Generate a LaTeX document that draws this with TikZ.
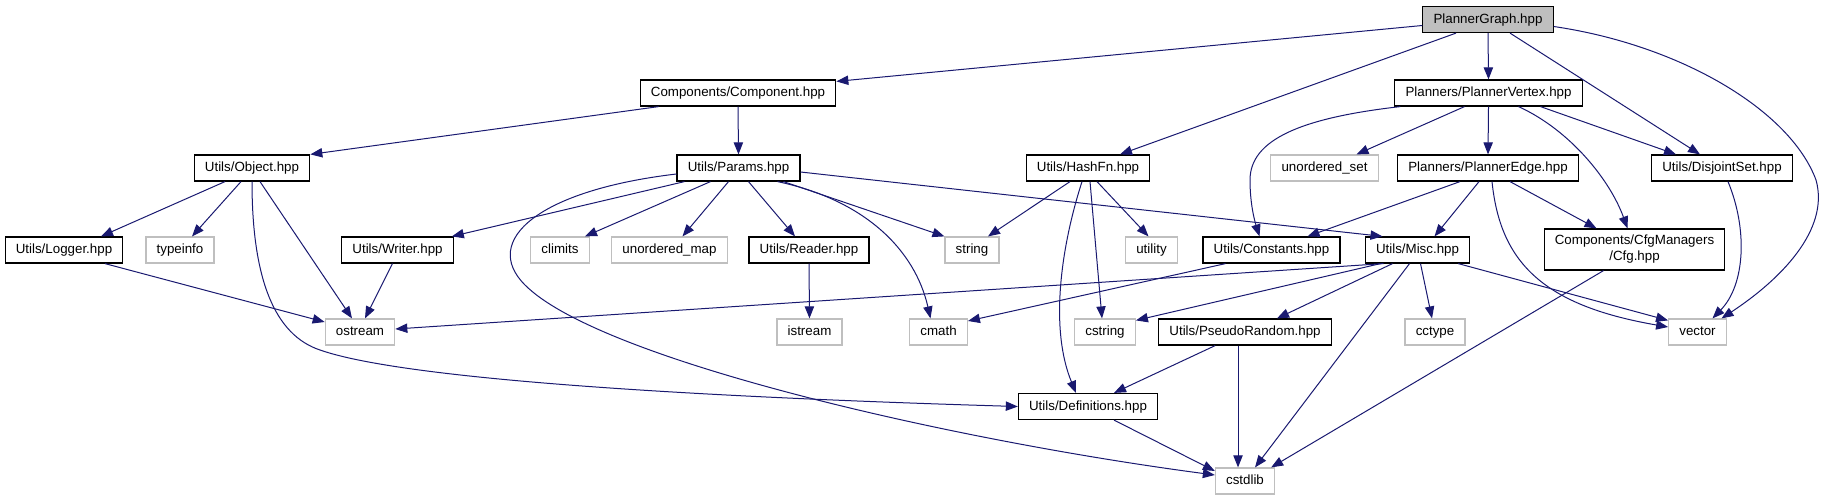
\documentclass[tikz,border=0pt]{standalone}
\usepackage{fontspec}
\setmainfont{Liberation Sans}
\usepackage{tikz}
\usetikzlibrary{arrows.meta,calc}
\definecolor{edgeblue}{HTML}{191970}
\definecolor{sysgray}{HTML}{BFBFBF}
\tikzset{
  base/.style={draw=black,line width=0.9pt,fill=white,inner xsep=8pt,inner ysep=0pt,
               font=\fontsize{10}{12}\selectfont},
  hdr/.style={base,minimum height=19.5pt,text height=7.4pt,text depth=2pt},
  sys/.style={hdr,draw=sysgray},
  root/.style={hdr,fill=sysgray},
  inc/.style={-{Triangle[length=9pt,width=7pt]},draw=edgeblue,line width=0.75pt},
}

\begin{document}
\begin{tikzpicture}[x=0.75pt,y=-0.75pt]
\useasboundingbox (0,0) rectangle (1822,500);

% row 0 and 1
\node[root] (graph)  at (1488,19.5) {PlannerGraph.hpp};
\node[hdr]  (comp)   at (738,93)    {Components/Component.hpp};
\node[hdr]  (vertex) at (1488.5,93) {Planners/PlannerVertex.hpp};

% row 2
\node[hdr] (object)   at (252,168)    {Utils/Object.hpp};
\node[hdr] (params)   at (738.5,168)  {Utils/Params.hpp};
\node[hdr] (hashfn)   at (1088,168)   {Utils/HashFn.hpp};
\node[sys] (uset)     at (1324.5,168) {unordered\_set};
\node[hdr] (edge)     at (1488,168)   {Planners/PlannerEdge.hpp};
\node[hdr] (disjoint) at (1722,168)   {Utils/DisjointSet.hpp};

% row 3
\node[hdr] (logger)    at (64,250)     {Utils/Logger.hpp};
\node[sys] (typeinfo)  at (180,250)    {typeinfo};
\node[hdr] (writer)    at (397.5,250)  {Utils/Writer.hpp};
\node[sys] (climits)   at (560,250)    {climits};
\node[sys] (umap)      at (669.5,250)  {unordered\_map};
\node[hdr] (reader)    at (809,250)    {Utils/Reader.hpp};
\node[sys] (string)    at (972,250)    {string};
\node[sys] (utility)   at (1151.5,250) {utility};
\node[hdr] (constants) at (1271.5,250) {Utils/Constants.hpp};
\node[hdr] (misc)      at (1417.5,250) {Utils/Misc.hpp};
\node[base,align=center,minimum height=30.75pt]
  (cfg) at (1634.5,249.5) {Components/CfgManagers\\/Cfg.hpp};

% row 4
\node[sys] (ostream) at (360,332)    {ostream};
\node[sys] (istream) at (809.5,332)  {istream};
\node[sys] (cmath)   at (938.5,332)  {cmath};
\node[sys] (cstring) at (1105,332)   {cstring};
\node[hdr] (pseudo)  at (1245,332)   {Utils/PseudoRandom.hpp};
\node[sys] (cctype)  at (1435,332)   {cctype};
\node[sys] (vector)  at (1697.5,332) {vector};

% row 5 and 6
\node[hdr] (defs)    at (1088,406.5) {Utils/Definitions.hpp};
\node[sys] (cstdlib) at (1245,481)   {cstdlib};

% PlannerGraph.hpp
\draw[inc] ($(graph.west)+(0,6)$) -- ($(comp.north east)+(0,2)$);
\draw[inc] ($(graph.south)+(-32,0)$) -- ($(hashfn.north)+(32,0)$);
\draw[inc] (graph.south) -- (vertex.north);
\draw[inc] ($(graph.south)+(22,0)$) -- ($(disjoint.north)+(-22,0)$);
\draw[inc] ($(graph.east)+(0,7)$) .. controls (1680,45) and (1790,110) .. (1816,180)
  .. controls (1830,230) and (1780,280) .. ($(vector.north)+(24,0)$);

% Component.hpp
\draw[inc] ($(comp.south west)+(19,0)$) -- (object.north east);
\draw[inc] (comp.south) -- (params.north);

% PlannerVertex.hpp
\draw[inc] ($(vertex.south west)+(6,0)$) .. controls (1300,118) and (1250,140) .. (1250,180)
  .. controls (1250,205) and (1255,222) .. ($(constants.north)+(-12,0)$);
\draw[inc] ($(vertex.south)+(-24,0)$) -- ($(uset.north)+(32,0)$);
\draw[inc] (vertex.south) -- (edge.north);
\draw[inc] ($(vertex.south)+(30,0)$) .. controls (1570,130) and (1610,180) .. ($(cfg.north)+(-7,0)$);
\draw[inc] ($(vertex.south)+(52,0)$) -- ($(disjoint.north)+(-46,0)$);

% Object.hpp
\draw[inc] ($(object.south)+(-27,0)$) -- ($(logger.north)+(37,0)$);
\draw[inc] ($(object.south)+(-11,0)$) -- ($(typeinfo.north)+(12,0)$);
\draw[inc] ($(object.south)+(8,0)$) -- ($(ostream.north)+(-8,0)$);
\draw[inc] (object.south) .. controls (252,280) and (275,335) .. (320,350)
  .. controls (420,385) and (800,400) .. (defs.west);

% Params.hpp
\draw[inc] ($(params.south west)+(8,0)$) -- ($(writer.north east)+(-2,0)$);
\draw[inc] ($(params.west)+(0,6)$) .. controls (540,190) and (480,240) .. (525,285)
  .. controls (600,360) and (950,440) .. ($(cstdlib.west)+(0,-6)$);
\draw[inc] ($(params.south)+(-28,0)$) -- ($(climits.north)+(25,0)$);
\draw[inc] ($(params.south)+(-10,0)$) -- ($(umap.north)+(13,0)$);
\draw[inc] ($(params.south)+(10,0)$) -- ($(reader.north)+(-14,0)$);
\draw[inc] ($(params.south)+(39,0)$) .. controls (865,200) and (915,250) .. ($(cmath.north)+(-8,0)$);
\draw[inc] ($(params.south)+(45,0)$) -- (string.north west);
\draw[inc] ($(params.east)+(0,4)$) -- ($(misc.north)+(-35,0)$);

% HashFn.hpp
\draw[inc] ($(hashfn.south)+(-18,0)$) -- ($(string.north)+(16,0)$);
\draw[inc] ($(hashfn.south)+(9,0)$) -- ($(utility.north)+(-3,0)$);
\draw[inc] ($(hashfn.south)+(-6,0)$) .. controls (1060,250) and (1050,330) .. ($(defs.north)+(-12,0)$);
\draw[inc] ($(hashfn.south)+(2,0)$) -- ($(cstring.north)+(-3,0)$);

% PlannerEdge.hpp
\draw[inc] ($(edge.south)+(-28,0)$) -- ($(constants.north)+(36,0)$);
\draw[inc] ($(edge.south)+(-9,0)$) -- ($(misc.north)+(17,0)$);
\draw[inc] ($(edge.south)+(4,0)$) .. controls (1500,260) and (1540,305) .. ($(vector.west)+(0,-5)$);
\draw[inc] ($(edge.south)+(22,0)$) -- ($(cfg.north)+(-38,0)$);

% DisjointSet.hpp
\draw[inc] ($(disjoint.south)+(6,0)$) .. controls (1748,230) and (1745,285) .. ($(vector.north)+(15,0)$);

% Logger, Writer, Reader, Constants
\draw[inc] ($(logger.south)+(41,0)$) -- ($(ostream.west)+(0,-10)$);
\draw[inc] ($(writer.south)+(-5,0)$) -- ($(ostream.north)+(5,0)$);
\draw[inc] (reader.south) -- (istream.north);
\draw[inc] ($(constants.south)+(-46,0)$) -- ($(cmath.east)+(0,-11)$);

% Misc.hpp
\draw[inc] ($(misc.south)+(-34,0)$) -- ($(ostream.east)+(0,-3)$);
\draw[inc] ($(misc.south)+(-37,0)$) -- ($(cstring.north east)+(0,2)$);
\draw[inc] ($(misc.south)+(-25,0)$) -- ($(pseudo.north)+(32,0)$);
\draw[inc] ($(misc.south)+(-8,0)$) -- ($(cstdlib.north)+(10,0)$);
\draw[inc] ($(misc.south)+(3,0)$) -- ($(cctype.north)+(-3,0)$);
\draw[inc] ($(misc.south east)+(-12,0)$) -- ($(vector.north west)+(0,2)$);

% Cfg, PseudoRandom, Definitions
\draw[inc] ($(cfg.south)+(-31,0)$) -- ($(cstdlib.north east)+(-4,0)$);
\draw[inc] ($(pseudo.south west)+(57,0)$) -- ($(defs.north)+(26,0)$);
\draw[inc] ($(pseudo.south)+(-7,0)$) -- ($(cstdlib.north)+(-7,0)$);
\draw[inc] ($(defs.south)+(26,0)$) -- ($(cstdlib.west)+(0,-10)$);

\end{tikzpicture}
\end{document}
